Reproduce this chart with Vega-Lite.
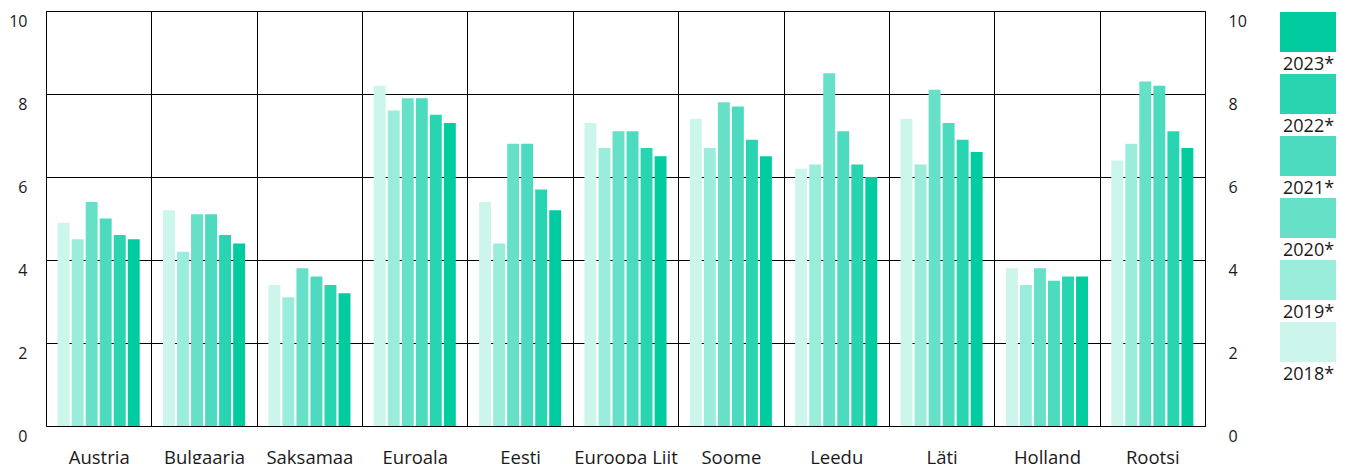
{
  "$schema": "https://vega.github.io/schema/vega-lite/v6.json",
  "autosize": "none",
  "width": 1159,
  "height": 415,
  "padding": {"left": 46, "top": 11, "right": 144, "bottom": 38},
  "background": "#ffffff",
  "config": {
    "font": "Open Sans",
    "view": {"stroke": null},
    "axis": {"labelColor": "#1a1a1a", "labelFont": "Open Sans"},
    "legend": {"labelColor": "#1a1a1a", "labelFont": "Open Sans"}
  },
  "data": {
    "values": [
      {"country": "Austria", "year": "2018*", "value": 4.9},
      {"country": "Austria", "year": "2019*", "value": 4.5},
      {"country": "Austria", "year": "2020*", "value": 5.4},
      {"country": "Austria", "year": "2021*", "value": 5.0},
      {"country": "Austria", "year": "2022*", "value": 4.6},
      {"country": "Austria", "year": "2023*", "value": 4.5},
      {"country": "Bulgaaria", "year": "2018*", "value": 5.2},
      {"country": "Bulgaaria", "year": "2019*", "value": 4.2},
      {"country": "Bulgaaria", "year": "2020*", "value": 5.1},
      {"country": "Bulgaaria", "year": "2021*", "value": 5.1},
      {"country": "Bulgaaria", "year": "2022*", "value": 4.6},
      {"country": "Bulgaaria", "year": "2023*", "value": 4.4},
      {"country": "Saksamaa", "year": "2018*", "value": 3.4},
      {"country": "Saksamaa", "year": "2019*", "value": 3.1},
      {"country": "Saksamaa", "year": "2020*", "value": 3.8},
      {"country": "Saksamaa", "year": "2021*", "value": 3.6},
      {"country": "Saksamaa", "year": "2022*", "value": 3.4},
      {"country": "Saksamaa", "year": "2023*", "value": 3.2},
      {"country": "Euroala", "year": "2018*", "value": 8.2},
      {"country": "Euroala", "year": "2019*", "value": 7.6},
      {"country": "Euroala", "year": "2020*", "value": 7.9},
      {"country": "Euroala", "year": "2021*", "value": 7.9},
      {"country": "Euroala", "year": "2022*", "value": 7.5},
      {"country": "Euroala", "year": "2023*", "value": 7.3},
      {"country": "Eesti", "year": "2018*", "value": 5.4},
      {"country": "Eesti", "year": "2019*", "value": 4.4},
      {"country": "Eesti", "year": "2020*", "value": 6.8},
      {"country": "Eesti", "year": "2021*", "value": 6.8},
      {"country": "Eesti", "year": "2022*", "value": 5.7},
      {"country": "Eesti", "year": "2023*", "value": 5.2},
      {"country": "Euroopa Liit", "year": "2018*", "value": 7.3},
      {"country": "Euroopa Liit", "year": "2019*", "value": 6.7},
      {"country": "Euroopa Liit", "year": "2020*", "value": 7.1},
      {"country": "Euroopa Liit", "year": "2021*", "value": 7.1},
      {"country": "Euroopa Liit", "year": "2022*", "value": 6.7},
      {"country": "Euroopa Liit", "year": "2023*", "value": 6.5},
      {"country": "Soome", "year": "2018*", "value": 7.4},
      {"country": "Soome", "year": "2019*", "value": 6.7},
      {"country": "Soome", "year": "2020*", "value": 7.8},
      {"country": "Soome", "year": "2021*", "value": 7.7},
      {"country": "Soome", "year": "2022*", "value": 6.9},
      {"country": "Soome", "year": "2023*", "value": 6.5},
      {"country": "Leedu", "year": "2018*", "value": 6.2},
      {"country": "Leedu", "year": "2019*", "value": 6.3},
      {"country": "Leedu", "year": "2020*", "value": 8.5},
      {"country": "Leedu", "year": "2021*", "value": 7.1},
      {"country": "Leedu", "year": "2022*", "value": 6.3},
      {"country": "Leedu", "year": "2023*", "value": 6.0},
      {"country": "Läti", "year": "2018*", "value": 7.4},
      {"country": "Läti", "year": "2019*", "value": 6.3},
      {"country": "Läti", "year": "2020*", "value": 8.1},
      {"country": "Läti", "year": "2021*", "value": 7.3},
      {"country": "Läti", "year": "2022*", "value": 6.9},
      {"country": "Läti", "year": "2023*", "value": 6.6},
      {"country": "Holland", "year": "2018*", "value": 3.8},
      {"country": "Holland", "year": "2019*", "value": 3.4},
      {"country": "Holland", "year": "2020*", "value": 3.8},
      {"country": "Holland", "year": "2021*", "value": 3.5},
      {"country": "Holland", "year": "2022*", "value": 3.6},
      {"country": "Holland", "year": "2023*", "value": 3.6},
      {"country": "Rootsi", "year": "2018*", "value": 6.4},
      {"country": "Rootsi", "year": "2019*", "value": 6.8},
      {"country": "Rootsi", "year": "2020*", "value": 8.3},
      {"country": "Rootsi", "year": "2021*", "value": 8.2},
      {"country": "Rootsi", "year": "2022*", "value": 7.1},
      {"country": "Rootsi", "year": "2023*", "value": 6.7}
    ]
  },
  "layer": [
    {
      "mark": {"type": "bar"},
      "encoding": {
        "x": {
          "field": "country",
          "type": "nominal",
          "sort": null,
          "scale": {"paddingInner": 0, "paddingOuter": 0},
          "axis": {
            "title": null,
            "grid": true,
            "gridColor": "#000000",
            "gridWidth": 1,
            "tickBand": "extent",
            "ticks": false,
            "domain": false,
            "labelAngle": 0,
            "labelFontSize": 18.5,
            "labelPadding": 22
          }
        },
        "xOffset": {
          "field": "year",
          "type": "nominal",
          "sort": ["2018*", "2019*", "2020*", "2021*", "2022*", "2023*"],
          "scale": {"paddingInner": 0.15, "paddingOuter": 0.83}
        },
        "y": {
          "field": "value",
          "type": "quantitative",
          "scale": {"domain": [0, 10]},
          "axis": {
            "title": null,
            "orient": "left",
            "values": [0, 2, 4, 6, 8, 10],
            "grid": true,
            "gridColor": "#000000",
            "gridWidth": 1,
            "ticks": false,
            "domain": true,
            "domainColor": "#000000",
            "labelAlign": "right",
            "labelBaseline": "top",
            "labelOffset": 2.5,
            "labelPadding": 19,
            "labelFontSize": 16
          }
        },
        "color": {
          "field": "year",
          "type": "nominal",
          "scale": {
            "domain": ["2023*", "2022*", "2021*", "2020*", "2019*", "2018*"],
            "range": ["#00cc9f", "#29d4b0", "#4ddbbf", "#66e0c7", "#9aeddb", "#ccf5ec"]
          },
          "legend": {
            "title": null,
            "orient": "none",
            "legendX": 1234,
            "legendY": 1,
            "padding": 0,
            "symbolType": "M-1.4,-1H1.4V1H-1.4Z",
            "symbolSize": 1600,
            "symbolStrokeWidth": 0,
            "symbolOpacity": 1,
            "symbolOffset": 8,
            "labelOffset": -45,
            "labelFontSize": 18,
            "rowPadding": -1,
            "encode": {"labels": {"update": {"dy": {"value": 33}}}}
          }
        }
      }
    },
    {
      "mark": {"type": "rule", "opacity": 0},
      "encoding": {
        "y": {
          "datum": 0,
          "type": "quantitative",
          "scale": {"domain": [0, 10]},
          "axis": {
            "title": null,
            "orient": "right",
            "values": [0, 2, 4, 6, 8, 10],
            "grid": false,
            "ticks": false,
            "domain": true,
            "domainColor": "#000000",
            "labelAlign": "left",
            "labelBaseline": "top",
            "labelOffset": 2.5,
            "labelPadding": 23,
            "labelFontSize": 16
          }
        }
      }
    }
  ],
  "resolve": {"scale": {"y": "independent"}}
}
